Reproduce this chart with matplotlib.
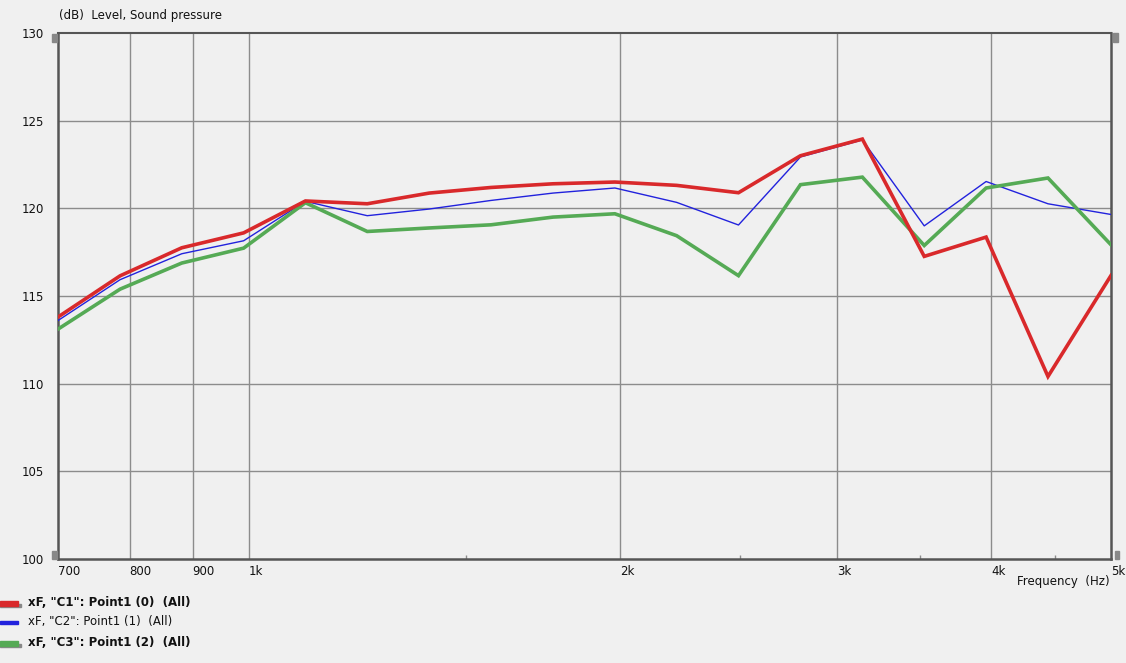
import numpy as np
import matplotlib
matplotlib.use('Agg')
import matplotlib.pyplot as plt
from matplotlib.patches import Rectangle

# band centres (Hz), 1/6 octave from 700 Hz to 5 kHz
freq = [700, 786, 882, 990, 1111, 1247, 1400, 1571, 1764, 1980,
        2222, 2494, 2800, 3143, 3528, 3960, 4445, 5000]

c1 = [113.8, 116.15, 117.75, 118.6, 120.42, 120.26, 120.87, 121.19, 121.4, 121.5,
      121.31, 120.89, 123.0, 123.95, 117.26, 118.36, 110.41, 116.17]
c2 = [113.6, 115.93, 117.41, 118.15, 120.4, 119.58, 119.96, 120.45, 120.87, 121.16,
      120.34, 119.05, 122.93, 123.9, 119.0, 121.53, 120.26, 119.65]
c3 = [113.11, 115.39, 116.88, 117.73, 120.32, 118.68, 118.88, 119.06, 119.5, 119.69,
      118.44, 116.16, 121.35, 121.78, 117.88, 121.16, 121.73, 117.92]

xticks = [700, 800, 900, 1000, 2000, 3000, 4000, 5000]
xticklabels = ['700', '800', '900', '1k', '2k', '3k', '4k', '5k']
xgrid = [800, 900, 1000, 2000, 3000, 4000]
xminor = [1500, 2500, 3500, 4500]
yticks = [100, 105, 110, 115, 120, 125, 130]

legend_labels = ['xF, "C1": Point1 (0)  (All)',
                 'xF, "C2": Point1 (1)  (All)',
                 'xF, "C3": Point1 (2)  (All)']

bg = '#f0f0f0'
red = '#d9292b'
blue = '#2222dd'
green = '#55aa55'
gridc = '#8c8c8c'
framec = '#555555'

W, H = 1126, 663
fig = plt.figure(figsize=(W / 100, H / 100), dpi=100, facecolor=bg)
x0, x1, y0, y1 = 58, 1111, 33, 559
ax = fig.add_axes([x0 / W, 1 - y1 / H, (x1 - x0) / W, (y1 - y0) / H])
ax.set_facecolor(bg)

ax.set_xscale('log')
ax.set_xlim(700, 5000)
ax.set_ylim(100, 130)

for f in xgrid:
    ax.axvline(f, color=gridc, lw=1.0, zorder=1)
for v in yticks[1:-1]:
    ax.axhline(v, color=gridc, lw=1.0, zorder=1)

ax.plot(freq, c2, color=blue, lw=1.0, zorder=3)
ax.plot(freq, c3, color=green, lw=2.6, zorder=4, solid_joinstyle='miter')
ax.plot(freq, c1, color=red, lw=2.6, zorder=5, solid_joinstyle='miter')

ax.set_xticks(xticks)
ax.set_xticklabels(xticklabels)
ax.xaxis.set_minor_locator(matplotlib.ticker.FixedLocator(xminor))
ax.xaxis.set_minor_formatter(matplotlib.ticker.NullFormatter())
ax.tick_params(axis='x', which='major', length=0, pad=4, labelsize=8.5, colors='#111111')
ax.tick_params(axis='x', which='minor', length=3, width=1, direction='in', color=gridc)
for lab in ax.get_xticklabels():
    lab.set_horizontalalignment('left')

ax.set_yticks(yticks)
ax.set_yticklabels([str(v) for v in yticks])
ax.tick_params(axis='y', length=0, pad=10, labelsize=8.5, colors='#111111')

for side in ['left', 'bottom', 'right', 'top']:
    ax.spines[side].set_color(framec)
ax.spines['left'].set_linewidth(1.8)
ax.spines['bottom'].set_linewidth(1.8)
ax.spines['right'].set_linewidth(1.8)
ax.spines['top'].set_linewidth(1.5)

# little grey handles next to the axis ends
def px_rect(x, y, w, h, color='#888888'):
    fig.patches.append(Rectangle((x / W, 1 - (y + h) / H), w / W, h / H,
                                 transform=fig.transFigure, color=color))

px_rect(52, 34, 5, 8)
px_rect(52, 551, 5, 8)
px_rect(1113, 33, 5, 9)
px_rect(1115, 551, 4, 8)

fig.text(59 / W, 1 - 16 / H, '(dB)  Level, Sound pressure', fontsize=8.5,
         va='center', ha='left', color='#111111')
fig.text(1110 / W, 1 - 582 / H, 'Frequency  (Hz)', fontsize=8.5,
         va='center', ha='right', color='#111111')

# legend below the chart
rows = [(603, red, 5, True), (622, blue, 3, False), (643, green, 5, True)]
for (yy, col, th, bold), lab in zip(rows, legend_labels):
    if bold:
        px_rect(0, yy + 1, 21, 3, '#888888')
    px_rect(0, yy - th / 2, 18, th, col)
    fig.text(28 / W, 1 - yy / H, lab, fontsize=8.5, va='center', ha='left',
             color='#111111', fontweight='bold' if bold else 'normal')

fig.savefig('out.png', dpi=100, facecolor=bg)
